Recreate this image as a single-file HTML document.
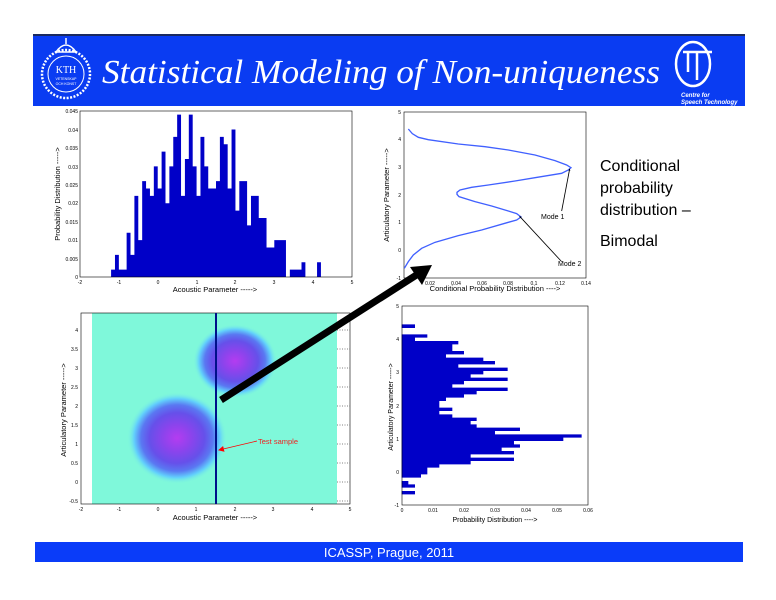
<!DOCTYPE html>
<html><head><meta charset="utf-8"><style>
html,body{margin:0;padding:0;background:#fff;}
svg{display:block;}
text{font-family:"Liberation Sans",sans-serif;}
</style></head><body>
<svg width="776" height="600" viewBox="0 0 776 600" xmlns="http://www.w3.org/2000/svg">
<defs>
<radialGradient id="blob">
<stop offset="0" stop-color="#b43cf0"/>
<stop offset="0.3" stop-color="#8a44ec"/>
<stop offset="0.55" stop-color="#6650ea"/>
<stop offset="0.72" stop-color="#5a78f2"/>
<stop offset="0.86" stop-color="#62d0fc"/>
<stop offset="1" stop-color="#7ff8da" stop-opacity="0"/>
</radialGradient>
<marker id="ah" markerWidth="6" markerHeight="6" refX="5" refY="3" orient="auto" markerUnits="userSpaceOnUse"><path d="M0,0 L6,3 L0,6 z" fill="#000"/></marker>
<marker id="ahr" markerWidth="6" markerHeight="6" refX="5" refY="3" orient="auto" markerUnits="userSpaceOnUse"><path d="M0,0 L6,3 L0,6 z" fill="#f00"/></marker>
</defs>
<!-- header -->
<rect x="33" y="34" width="712" height="72" fill="#0a3cf2"/>
<rect x="33" y="34" width="712" height="2" fill="#1a2a60"/>
<circle cx="66" cy="74" r="24" fill="none" stroke="#fff" stroke-width="2.5" stroke-dasharray="2 1.5"/>
<circle cx="66" cy="74" r="18" fill="none" stroke="#fff" stroke-width="1"/>
<path d="M56 52 Q66 38 76 52 Z" fill="none" stroke="#fff" stroke-width="1.5"/>
<line x1="66" y1="38" x2="66" y2="44" stroke="#fff" stroke-width="1.5"/>
<text x="66" y="73" font-family="Liberation Serif" font-size="10" fill="#fff" text-anchor="middle" style="font-family:'Liberation Serif',serif">KTH</text>
<text x="66" y="80" font-size="3.5" fill="#fff" text-anchor="middle">VETENSKAP</text>
<text x="66" y="85" font-size="3.5" fill="#fff" text-anchor="middle">OCH KONST</text>
<text x="102" y="83" font-size="34" fill="#fff" font-style="italic" textLength="558" lengthAdjust="spacingAndGlyphs" style="font-family:'Liberation Serif',serif">Statistical Modeling of Non-uniqueness</text>
<ellipse cx="693" cy="64" rx="17" ry="22" fill="none" stroke="#fff" stroke-width="2.5"/>
<path d="M683 52 H712 M697 52 V80 M688 52 V72" stroke="#fff" stroke-width="2.5" fill="none"/>
<text x="681" y="97" font-size="6" fill="#fff" font-style="italic" font-weight="bold">Centre for</text>
<text x="681" y="104" font-size="6" fill="#fff" font-style="italic" font-weight="bold">Speech Technology</text>
<!-- footer -->
<rect x="35" y="542" width="708" height="20" fill="#0a3cf9"/>
<text x="389" y="557" font-size="13" fill="#fff" text-anchor="middle">ICASSP, Prague,  2011</text>

<!-- plot 1 histogram -->
<g transform="translate(80,277) scale(3.886,-3.689)">
<path fill="#0000c8" d="M8 0 V2 H9 V6 H10 V2 H11 V2 H12 V12 H13 V6 H14 V22 H15 V10 H16 V26 H17 V24 H18 V22 H19 V30 H20 V24 H21 V34 H22 V20 H23 V30 H24 V38 H25 V44 H26 V22 H27 V32 H28 V44 H29 V30 H30 V22 H31 V38 H32 V30 H33 V24 H34 V24 H35 V26 H36 V38 H37 V36 H38 V24 H39 V40 H40 V18 H41 V26 H42 V26 H43 V14 H44 V22 H45 V22 H46 V16 H47 V16 H48 V8 H49 V8 H50 V10 H51 V10 H52 V10 H53 V0 H54 V2 H55 V2 H56 V2 H57 V4 H58 V0 H61 V4 H62 V0 Z"/>
</g>
<rect x="80" y="111" width="272" height="166" fill="none" stroke="#000" stroke-width="0.6"/>
<g font-size="5" fill="#000">
<text x="80" y="284" text-anchor="middle">-2</text><text x="119" y="284" text-anchor="middle">-1</text><text x="158" y="284" text-anchor="middle">0</text><text x="197" y="284" text-anchor="middle">1</text><text x="235" y="284" text-anchor="middle">2</text><text x="274" y="284" text-anchor="middle">3</text><text x="313" y="284" text-anchor="middle">4</text><text x="352" y="284" text-anchor="middle">5</text>
<text x="78" y="279" text-anchor="end">0</text><text x="78" y="261" text-anchor="end">0.005</text><text x="78" y="242" text-anchor="end">0.01</text><text x="78" y="224" text-anchor="end">0.015</text><text x="78" y="205" text-anchor="end">0.02</text><text x="78" y="187" text-anchor="end">0.025</text><text x="78" y="169" text-anchor="end">0.03</text><text x="78" y="150" text-anchor="end">0.035</text><text x="78" y="132" text-anchor="end">0.04</text><text x="78" y="113" text-anchor="end">0.045</text>
</g>
<text x="215" y="292" font-size="7.5" text-anchor="middle">Acoustic Parameter -----&gt;</text>
<text transform="translate(60,194) rotate(-90)" font-size="7.5" text-anchor="middle">Probability Distribution -----&gt;</text>

<!-- plot 2 -->
<rect x="404" y="112" width="182" height="166" fill="none" stroke="#000" stroke-width="0.6"/>
<g transform="translate(375,105) scale(0.3333)">
<path fill="none" stroke="#4060ff" stroke-width="4" d="M100 72 L112 86 L130 97 L160 104 L250 117 L330 125 L400 135 L480 150 L540 167 L575 180 L588 188 L580 195 L560 205 L480 218 L420 228 L340 240 L290 247 L255 255 L246 262 L246 268 L252 275 L300 290 L350 303 L400 318 L425 326 L438 336 L425 345 L400 352 L320 375 L250 392 L180 412 L140 430 L115 450 L100 470 L88 490"/>
<line x1="560" y1="318" x2="584" y2="192" stroke="#000" stroke-width="2.5" marker-end="url(#ah)"/>
<line x1="560" y1="470" x2="434" y2="334" stroke="#000" stroke-width="2.5" marker-end="url(#ah)"/>
</g>
<text x="541" y="219" font-size="7">Mode 1</text>
<text x="558" y="266" font-size="7">Mode 2</text>
<g font-size="5">
<text x="404" y="285" text-anchor="middle">0</text><text x="430" y="285" text-anchor="middle">0.02</text><text x="456" y="285" text-anchor="middle">0.04</text><text x="482" y="285" text-anchor="middle">0.06</text><text x="508" y="285" text-anchor="middle">0.08</text><text x="534" y="285" text-anchor="middle">0.1</text><text x="560" y="285" text-anchor="middle">0.12</text><text x="586" y="285" text-anchor="middle">0.14</text>
<text x="401" y="280" text-anchor="end">-1</text><text x="401" y="252" text-anchor="end">0</text><text x="401" y="224" text-anchor="end">1</text><text x="401" y="197" text-anchor="end">2</text><text x="401" y="169" text-anchor="end">3</text><text x="401" y="141" text-anchor="end">4</text><text x="401" y="114" text-anchor="end">5</text>
</g>
<text x="495" y="291" font-size="7.5" text-anchor="middle">Conditional Probability Distribution ----&gt;</text>
<text transform="translate(389,195) rotate(-90)" font-size="7.5" text-anchor="middle">Articulatory Parameter -----&gt;</text>

<g font-size="16" fill="#000">
<text x="600" y="171">Conditional</text>
<text x="600" y="193">probability</text>
<text x="600" y="215">distribution –</text>
<text x="600" y="246">Bimodal</text>
</g>

<!-- plot 3 heatmap -->
<rect x="92" y="313" width="245" height="191" fill="#7ff8da"/>
<ellipse cx="177" cy="438" rx="50" ry="46" fill="url(#blob)"/>
<ellipse cx="235" cy="361" rx="42" ry="37" fill="url(#blob)"/>
<rect x="81" y="313" width="269" height="191" fill="none" stroke="#000" stroke-width="0.6"/>
<g stroke="#000" stroke-width="0.5" stroke-dasharray="1 1.5">
<line x1="337" y1="330" x2="350" y2="330"/><line x1="337" y1="349" x2="350" y2="349"/><line x1="337" y1="368" x2="350" y2="368"/><line x1="337" y1="387" x2="350" y2="387"/><line x1="337" y1="406" x2="350" y2="406"/><line x1="337" y1="425" x2="350" y2="425"/><line x1="337" y1="444" x2="350" y2="444"/><line x1="337" y1="463" x2="350" y2="463"/><line x1="337" y1="482" x2="350" y2="482"/><line x1="337" y1="501" x2="350" y2="501"/>
</g>
<line x1="216" y1="313" x2="216" y2="504" stroke="#00108a" stroke-width="2"/>
<text x="258" y="444" font-size="7.5" fill="#f02020">Test sample</text>
<line x1="257" y1="441" x2="219" y2="450" stroke="#f00" stroke-width="0.8" marker-end="url(#ahr)"/>
<g font-size="5">
<text x="81" y="511" text-anchor="middle">-2</text><text x="119" y="511" text-anchor="middle">-1</text><text x="158" y="511" text-anchor="middle">0</text><text x="196" y="511" text-anchor="middle">1</text><text x="235" y="511" text-anchor="middle">2</text><text x="273" y="511" text-anchor="middle">3</text><text x="312" y="511" text-anchor="middle">4</text><text x="350" y="511" text-anchor="middle">5</text>
<text x="78" y="332" text-anchor="end">4</text><text x="78" y="351" text-anchor="end">3.5</text><text x="78" y="370" text-anchor="end">3</text><text x="78" y="389" text-anchor="end">2.5</text><text x="78" y="408" text-anchor="end">2</text><text x="78" y="427" text-anchor="end">1.5</text><text x="78" y="446" text-anchor="end">1</text><text x="78" y="465" text-anchor="end">0.5</text><text x="78" y="484" text-anchor="end">0</text><text x="78" y="503" text-anchor="end">-0.5</text>
</g>
<text x="215" y="520" font-size="7.5" text-anchor="middle">Acoustic Parameter -----&gt;</text>
<text transform="translate(66,410) rotate(-90)" font-size="7.5" text-anchor="middle">Articulatory Parameter -----&gt;</text>

<!-- plot 4 -->
<g transform="translate(375,300) scale(0.3333)">
<path fill="#0000c8" d="M80 73 H120 V84 H80 Z M80 103 H157 V113 H120 V123 H250 V133 H232 V153 H267 V163 H213 V173 H325 V183 H360 V193 H250 V203 H398 V213 H325 V223 H287 V233 H398 V243 H267 V253 H232 V263 H398 V273 H305 V283 H267 V293 H213 V303 H193 V323 H232 V333 H193 V343 H232 V353 H305 V363 H287 V373 H305 V383 H435 V393 H360 V403 H620 V413 H565 V423 H417 V433 H435 V443 H380 V453 H417 V463 H287 V473 H417 V483 H287 V493 H193 V503 H157 V523 H138 V533 H80 Z M80 543 H100 V553 H120 V563 H80 Z M80 573 H120 V583 H80 Z"/>
</g>
<rect x="402" y="306" width="186" height="199" fill="none" stroke="#000" stroke-width="0.6"/>
<g font-size="5">
<text x="402" y="512" text-anchor="middle">0</text><text x="433" y="512" text-anchor="middle">0.01</text><text x="464" y="512" text-anchor="middle">0.02</text><text x="495" y="512" text-anchor="middle">0.03</text><text x="526" y="512" text-anchor="middle">0.04</text><text x="557" y="512" text-anchor="middle">0.05</text><text x="588" y="512" text-anchor="middle">0.06</text>
<text x="399" y="507" text-anchor="end">-1</text><text x="399" y="474" text-anchor="end">0</text><text x="399" y="441" text-anchor="end">1</text><text x="399" y="408" text-anchor="end">2</text><text x="399" y="374" text-anchor="end">3</text><text x="399" y="341" text-anchor="end">4</text><text x="399" y="308" text-anchor="end">5</text>
</g>
<text x="495" y="522" font-size="7" text-anchor="middle">Probability Distribution ----&gt;</text>
<text transform="translate(393,407) rotate(-90)" font-size="7" text-anchor="middle">Articulatory Parameter -----&gt;</text>

<!-- big arrow -->
<line x1="221" y1="400" x2="418" y2="274" stroke="#000" stroke-width="7"/>
<path d="M432 265 L410 267 L422 285 Z" fill="#000"/>
</svg>
</body></html>
